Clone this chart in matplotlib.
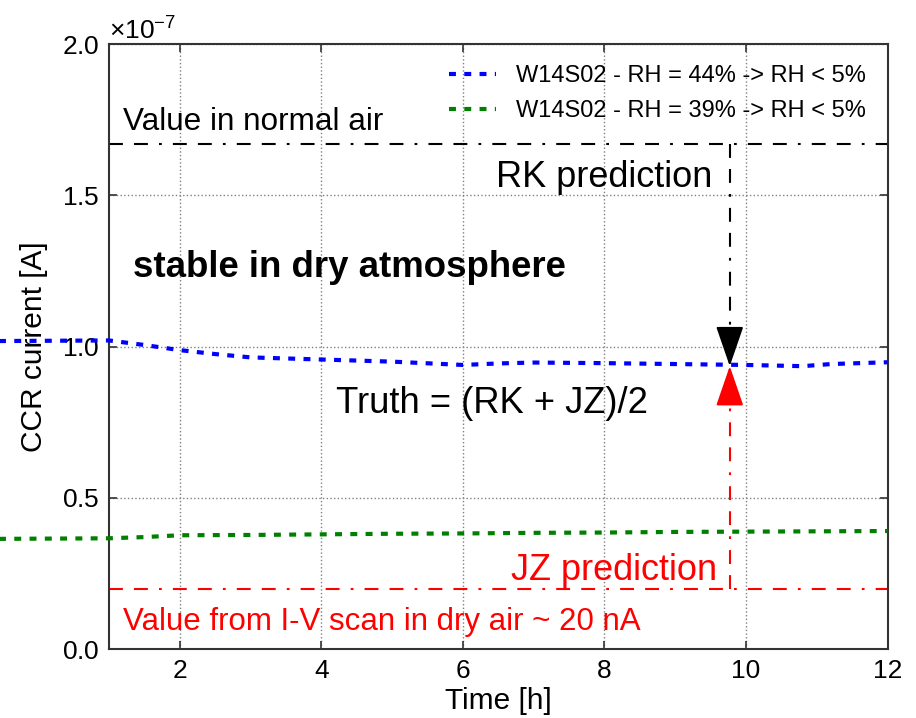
import matplotlib
matplotlib.use("Agg")
import matplotlib.pyplot as plt
import numpy as np

plt.rcParams['font.family'] = ['Liberation Sans', 'DejaVu Sans']
plt.rcParams['mathtext.fontset'] = 'custom'
plt.rcParams['mathtext.rm'] = 'Liberation Sans'
plt.rcParams['lines.scale_dashes'] = False

# measurement data (current in units of 1e-7 A)
t_44 = [-0.6, 1.0, 1.5, 2.0, 2.5, 3.0, 4.0, 5.0, 6.0, 6.5, 7.0, 8.0, 9.0, 10.0, 10.8, 11.2, 12.0]
i_44 = [1.018, 1.02, 1.005, 0.988, 0.975, 0.964, 0.957, 0.950, 0.939, 0.944, 0.947, 0.945, 0.942,
        0.939, 0.935, 0.942, 0.948]
t_39 = [-0.6, 1.0, 1.5, 2.0, 3.0, 4.0, 5.0, 6.0, 7.0, 8.0, 9.0, 10.0, 11.0, 12.0]
i_39 = [0.364, 0.366, 0.370, 0.376, 0.377, 0.379, 0.381, 0.382, 0.384, 0.385, 0.387, 0.388,
        0.389, 0.390]
labels = ['W14S02 - RH = 44% -> RH < 5%', 'W14S02 - RH = 39% -> RH < 5%']

rk_value = 1.67   # value in normal air
jz_value = 0.20   # I-V scan in dry air, ~20 nA
t_arrow = 9.77
truth = (rk_value + jz_value) / 2

scale = 1e-7

fig = plt.figure(figsize=(9.16, 7.18), dpi=100)
ax = fig.add_axes([0.119, 0.0961, 0.850, 0.8426])

dash_data = (5, 6)
ax.plot(np.array(t_44), np.array(i_44) * scale, color='blue', lw=3, dashes=dash_data,
        label=labels[0], clip_on=False, zorder=3)
ax.plot(np.array(t_39), np.array(i_39) * scale, color='green', lw=3, dashes=dash_data,
        label=labels[1], clip_on=False, zorder=3)

# reference levels
dash_dot = (10, 8, 10, 8, 2, 8)
ax.plot([1, 12], [rk_value * scale] * 2, color='black', lw=1.5, dashes=dash_dot)
ax.plot([1, 12], [jz_value * scale] * 2, color='red', lw=1.5, dashes=dash_dot)

# predictions pointing at the truth
ax.plot([t_arrow, t_arrow], [rk_value * scale, (truth + 0.1) * scale], color='black', lw=1.5,
        dashes=dash_dot)
ax.plot([t_arrow, t_arrow], [jz_value * scale, (truth - 0.1) * scale], color='red', lw=1.5,
        dashes=dash_dot)
ax.annotate('', xy=(t_arrow, truth * scale), xytext=(t_arrow, (truth + 0.12) * scale),
            arrowprops=dict(arrowstyle='-|>,head_length=1.8,head_width=0.62', color='black',
                            lw=1.5, shrinkA=0, shrinkB=0, mutation_scale=14), zorder=5)
ax.annotate('', xy=(t_arrow, truth * scale), xytext=(t_arrow, (truth - 0.12) * scale),
            arrowprops=dict(arrowstyle='-|>,head_length=1.8,head_width=0.62', color='red',
                            lw=1.5, shrinkA=0, shrinkB=0, mutation_scale=14), zorder=5)

ax.text(1.2, 1.716 * scale, 'Value in normal air', fontsize=22.7, va='baseline')
ax.text(6.47, 1.527 * scale, 'RK prediction', fontsize=26, va='baseline')
ax.text(1.34, 1.23 * scale, 'stable in dry atmosphere', fontsize=26.4, fontweight='bold',
        va='baseline')
ax.text(4.2, 0.78 * scale, 'Truth = (RK + JZ)/2', fontsize=26.2, va='baseline')
ax.text(6.68, 0.228 * scale, 'JZ prediction', fontsize=26, va='baseline', color='red')
ax.text(1.2, 0.063 * scale, 'Value from I-V scan in dry air ~ 20 nA', fontsize=22.5,
        va='baseline', color='red')

ax.set_xlim(1, 12)
ax.set_ylim(0, 2.0e-7)
ax.set_xticks([2, 4, 6, 8, 10, 12])
ax.set_yticks(np.arange(0, 2.01, 0.5) * scale)
ax.ticklabel_format(axis='y', style='sci', scilimits=(0, 0), useMathText=True)
ax.yaxis.get_offset_text().set_fontsize(19)

ax.grid(True, color='0.5', linestyle=':', lw=1)
ax.tick_params(direction='in', length=6, width=1.2, labelsize=19, top=True, right=True,
               color='#333333', pad=7)
for sp in ax.spines.values():
    sp.set_color('#333333')
    sp.set_linewidth(1.5)

ax.set_xlabel('Time [h]', fontsize=21.5, labelpad=3)
ax.set_ylabel('CCR current [A]', fontsize=21.5, labelpad=10)

ax.legend(loc='upper right', frameon=False, fontsize=17, handlelength=2.0,
          handletextpad=0.85, labelspacing=0.55, borderaxespad=0.5)

fig.savefig('out.png', dpi=100)
